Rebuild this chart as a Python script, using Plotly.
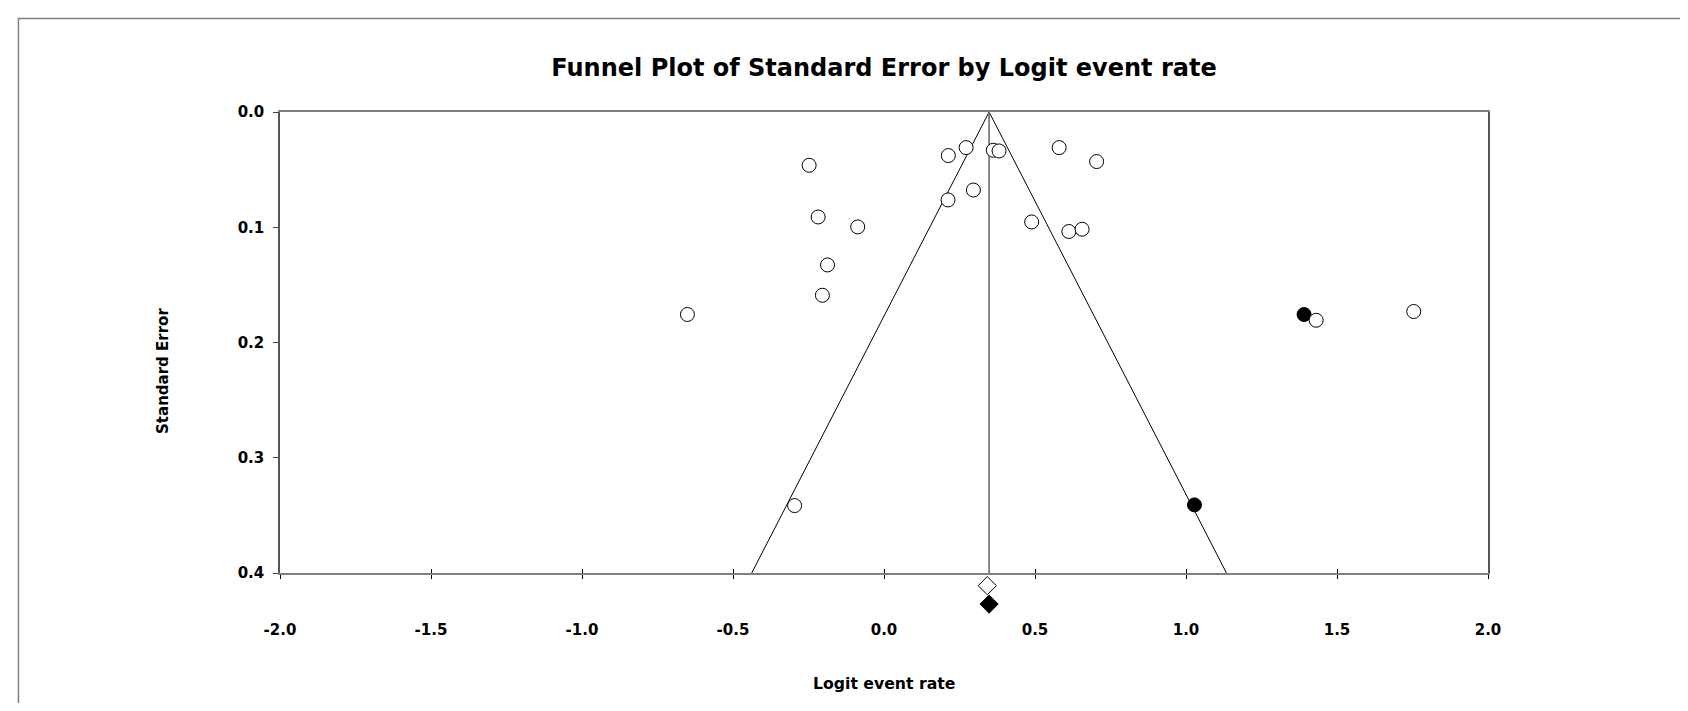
import plotly.graph_objects as go

# ---- data ----
observed_logit = [-0.248, 0.213, 0.272, 0.362, 0.381, 0.580, 0.704, 0.296, 0.212,
                  -0.218, -0.087, 0.489, 0.612, 0.656, -0.187, -0.204, -0.651,
                  1.431, 1.754, -0.296]
observed_se = [0.0462, 0.0378, 0.0309, 0.0332, 0.0338, 0.0309, 0.0430, 0.0677, 0.0763,
               0.0911, 0.0997, 0.0954, 0.1037, 0.1017, 0.1327, 0.1590, 0.1757,
               0.1807, 0.1731, 0.3415]
imputed_logit = [1.391, 1.028]
imputed_se = [0.1757, 0.3409]

observed_estimate = 0.342   # open diamond
adjusted_estimate = 0.348   # filled diamond
diamond_se = [0.411, 0.427]  # drawn just below the axis

funnel_x = [-0.438, 0.348, 1.134]
funnel_y = [0.4, 0.0, 0.4]
center_x = [0.348, 0.348]
center_y = [0.0, 0.4]

x_tickvals = [-2.0, -1.5, -1.0, -0.5, 0.0, 0.5, 1.0, 1.5, 2.0]
x_ticktext = ["-2.0", "-1.5", "-1.0", "-0.5", "0.0", "0.5", "1.0", "1.5", "2.0"]
y_tickvals = [0.0, 0.1, 0.2, 0.3, 0.4]
y_ticktext = ["0.0", "0.1", "0.2", "0.3", "0.4"]

FONT = "DejaVu Sans"

fig = go.Figure()

fig.add_trace(go.Scatter(x=funnel_x, y=funnel_y, mode="lines",
                         line=dict(color="black", width=1), hoverinfo="skip",
                         showlegend=False))
fig.add_trace(go.Scatter(x=center_x, y=center_y, mode="lines",
                         line=dict(color="#6e6e6e", width=1.6), hoverinfo="skip",
                         showlegend=False))
fig.add_trace(go.Scatter(x=imputed_logit, y=imputed_se, mode="markers",
                         marker=dict(symbol="circle", size=14, color="black",
                                     opacity=1, line=dict(color="black", width=1)),
                         showlegend=False))
fig.add_trace(go.Scatter(x=observed_logit, y=observed_se, mode="markers",
                         marker=dict(symbol="circle", size=14, color="white",
                                     opacity=1, line=dict(color="black", width=1)),
                         showlegend=False))
# summary diamonds sit in a thin strip just below the main axis
fig.add_trace(go.Scatter(x=[observed_estimate, adjusted_estimate], y=diamond_se,
                         xaxis="x", yaxis="y2", mode="markers", cliponaxis=False,
                         marker=dict(symbol="diamond", size=14, opacity=1,
                                     color=["white", "black"],
                                     line=dict(color="black", width=1)),
                         showlegend=False))

# invisible trace on overlay axis for inward tick marks
fig.add_trace(go.Scatter(x=[-2, 2], y=[0.4, 0.4], xaxis="x2", mode="markers",
                         marker=dict(opacity=0), hoverinfo="skip", showlegend=False))

W, H = 1672, 695
T, B = 104, 85
PH = H - T - B                       # 506 px of plotting region
main_bottom = (H - B - 565) / PH     # main axes end at y=565 px
strip_px = (H - B) - 565             # px of the diamond strip
px_per_unit = 461 / 0.4

fig.update_layout(
    width=W, height=H,
    margin=dict(l=272, r=192, t=T, b=B),
    paper_bgcolor="white", plot_bgcolor="white",
    font=dict(family=FONT, color="black"),
    title=dict(text="Funnel Plot of Standard Error by Logit event rate",
               x=0.5, xref="paper", xanchor="center",
               y=1 - 59.8 / H, yref="container", yanchor="middle",
               font=dict(family=FONT, size=24, weight="bold", color="black")),
    xaxis=dict(range=[-2, 2], tickvals=x_tickvals, ticktext=x_ticktext,
               anchor="y",
               ticks="outside", ticklen=4, tickcolor="black", tickwidth=1,
               ticklabelstandoff=38,
               showgrid=False, zeroline=False,
               showline=True, linecolor="#808080", linewidth=2, mirror=True,
               tickfont=dict(family=FONT, size=15, weight="bold", color="black")),
    xaxis2=dict(range=[-2, 2], overlaying="x", side="bottom", anchor="y",
                tickvals=x_tickvals, showticklabels=False,
                ticks="inside", ticklen=4, tickcolor="black", tickwidth=1,
                showgrid=False, zeroline=False, showline=False),
    yaxis=dict(range=[0.4, 0], domain=[main_bottom, 1],
               tickvals=y_tickvals, ticktext=y_ticktext,
               ticks="outside", ticklen=5, tickcolor="#404040", tickwidth=1,
               ticklabelstandoff=6,
               showgrid=False, zeroline=False,
               showline=True, linecolor="#555555", linewidth=1.5, mirror=True,
               tickfont=dict(family=FONT, size=15, weight="bold", color="black")),
    yaxis2=dict(range=[0.4 + strip_px / px_per_unit, 0.4], domain=[0, main_bottom],
                anchor="x", showline=False, showgrid=False, zeroline=False,
                showticklabels=False, ticks=""),
    annotations=[
        dict(text="Logit event rate", xref="paper", yref="paper", x=0.5,
             y=((H - B) - 675.6) / PH,
             xanchor="center", yanchor="middle", showarrow=False,
             font=dict(family=FONT, size=15.7, weight="bold", color="black")),
        dict(text="Standard Error", xref="paper", yref="paper", x=-0.0969,
             y=((H - B) - 363) / PH,
             xanchor="center", yanchor="middle", textangle=-90, showarrow=False,
             font=dict(family=FONT, size=15, weight="bold", color="black")),
    ],
    shapes=[
        dict(type="rect", xref="paper", yref="paper",
             x0=-0.2165, y0=-0.6, x1=1.4, y1=((H - B) - 10.5) / PH,
             line=dict(color="#808080", width=1.5), layer="below"),
    ],
)

fig.write_html("out.html")
